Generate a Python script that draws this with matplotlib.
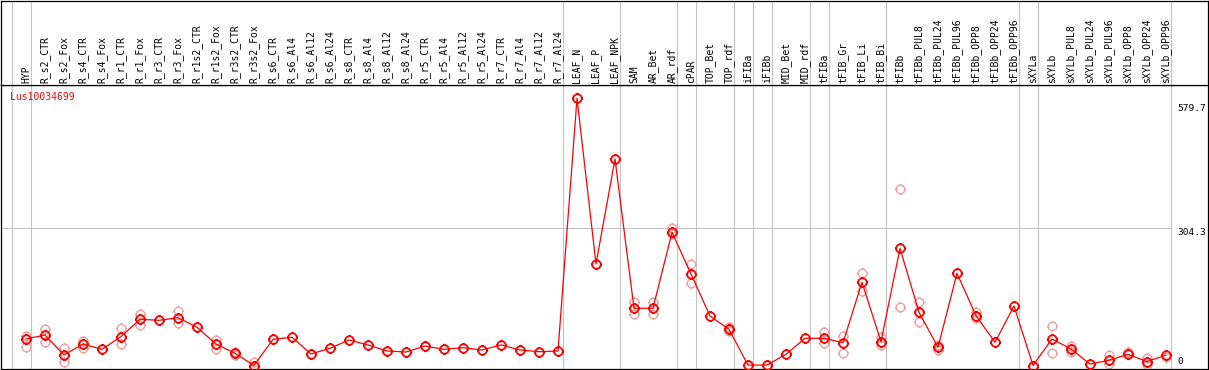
import numpy as np
import matplotlib
matplotlib.use("Agg")
import matplotlib.pyplot as plt
from matplotlib.path import Path

nan = np.nan

samples = ["HYP", "R_s2_CTR", "R_s2_Fox", "R_s4_CTR", "R_s4_Fox", "R_r1_CTR", "R_r1_Fox",
           "R_r3_CTR", "R_r3_Fox", "R_r1s2_CTR", "R_r1s2_Fox", "R_r3s2_CTR", "R_r3s2_Fox",
           "R_s6_CTR", "R_s6_Al4", "R_s6_Al12", "R_s6_Al24", "R_s8_CTR", "R_s8_Al4",
           "R_s8_Al12", "R_s8_Al24", "R_r5_CTR", "R_r5_Al4", "R_r5_Al12", "R_r5_Al24",
           "R_r7_CTR", "R_r7_Al4", "R_r7_Al12", "R_r7_Al24", "LEAF_N", "LEAF_P", "LEAF_NPK",
           "SAM", "AR_Bet", "AR_rdf", "cPAR", "TOP_Bet", "TOP_rdf", "iFIBa", "iFIBb",
           "MID_Bet", "MID_rdf", "tFIBa", "tFIB_Gr", "tFIB_Li", "tFIB_Bi", "tFIBb",
           "tFIBb_PUL8", "tFIBb_PUL24", "tFIBb_PUL96", "tFIBb_OPP8", "tFIBb_OPP24",
           "tFIBb_OPP96", "sXYLa", "sXYLb", "sXYLb_PUL8", "sXYLb_PUL24", "sXYLb_PUL96",
           "sXYLb_OPP8", "sXYLb_OPP24", "sXYLb_OPP96"]

mean_expr = [58.8, 67.6, 23.3, 47.7, 35.9, 63.9, 102.5, 100.2, 106.0, 84.7,
             47.7, 27.1, 0.0, 58.1, 62.5, 25.5, 38.1, 56.6, 45.5, 32.2,
             29.9, 43.2, 35.9, 39.5, 34.4, 45.5, 34.4, 30.6, 32.2, 592.6,
             225.1, 458.0, 126.9, 126.9, 295.4, 202.9, 109.8, 80.3, 1.0, 1.0,
             24.8, 60.3, 60.3, 50.6, 184.5, 52.8, 259.9, 118.0, 40.4, 204.5,
             110.4, 51.5, 132.0, 0.0, 58.8, 36.6, 3.3, 11.5, 24.8, 8.4,
             23.3]

# replicate values (nan = hidden behind the mean marker)
rep_1 = [65.4, 80.3, 38.1, 55.0, nan, 82.5, 114.2, nan, 120.9, nan,
         56.6, 30.6, 7.1, nan, nan, nan, nan, nan, nan, nan,
         nan, nan, nan, nan, nan, nan, nan, nan, nan, nan,
         nan, nan, 141.5, 141.5, 305.6, 225.1, nan, 86.0, nan, nan,
         nan, nan, 73.6, 66.1, 204.5, 63.9, 390.8, 140.2, 45.5, nan,
         118.0, nan, nan, nan, 87.6, 43.2, nan, 23.3, 30.6, 16.0,
         19.5]
rep_2 = [41.7, 52.8, 8.4, 38.1, nan, 47.0, 89.8, nan, 93.6, nan,
         35.9, 23.3, nan, nan, nan, nan, nan, nan, nan, nan,
         nan, nan, nan, nan, nan, nan, nan, nan, nan, nan,
         nan, nan, 114.2, 114.2, 291.6, 182.3, nan, 77.2, nan, nan,
         nan, nan, 49.2, 28.4, 165.2, 45.5, 129.1, 97.1, 34.4, nan,
         104.7, nan, nan, nan, 28.4, 29.3, nan, 2.7, nan, 1.1,
         nan]

# last sample of each group (separator lines drawn after them)
group_ends = [-1, 0, 28, 31, 34, 35, 37, 38, 39, 41, 42, 45, 52, 53, 60]
y_ticks = [0, 304.3, 579.7]
gene = "Lus10034699"

# circle with four small ticks
circ = Path.unit_circle()
stubs = Path([(1.0, 0), (1.3, 0), (-1.0, 0), (-1.3, 0), (0, 1.0), (0, 1.3), (0, -1.0), (0, -1.3)],
             [Path.MOVETO, Path.LINETO] * 4)
mark = Path.make_compound_path(circ, stubs)

mono = "DejaVu Sans Mono"
W, H = 1209, 370
fig = plt.figure(figsize=(W / 100, H / 100), dpi=100)

top_px, bot_px = 85, 369
ax = fig.add_axes([1 / W, (H - bot_px) / H, 1207 / W, (bot_px - top_px) / H])
hd = fig.add_axes([1 / W, (H - top_px) / H, 1207 / W, (top_px - 0.5) / H], sharex=ax)

x = np.arange(len(samples))
xlim = (-25 / 19, 1182 / 19)
ax.set_xlim(xlim)
ax.set_ylim(-7.76, 622.1)

for g in group_ends:
    for a in (ax, hd):
        a.axvline(g + 0.25, color="#c4c4c4", lw=0.8, zorder=0)
ax.hlines(y_ticks[1], xlim[0], group_ends[-1] + 0.25, color="#c4c4c4", lw=0.8, zorder=0)

for r in (rep_1, rep_2):
    ax.plot(x, r, ls="none", marker=mark, ms=8, mfc="none", mec="#f0a0a0", mew=1.0, zorder=2)
ax.plot(x, mean_expr, color="red", lw=0.9, marker=mark, ms=8, mfc="none", mec="red", mew=1.3,
        zorder=3)

ax.set_xticks([])
ax.set_yticks([])
hd.set_yticks([])
hd.tick_params(bottom=False, labelbottom=False)
hd.set_ylim(0, 1)
for a in (ax, hd):
    for s in a.spines.values():
        s.set_color("black")
        s.set_linewidth(0.9)

for i, name in enumerate(samples):
    hd.annotate(name, (i, 0), xytext=(0, 1.5), textcoords="offset points", rotation=90,
                ha="center", va="bottom", family=mono, fontsize=7)

# y labels on the right
lx = len(samples) - 1 + 0.62
ax.text(lx, y_ticks[2], "579.7", va="top", ha="left", family=mono, fontsize=6.8)
ax.text(lx, y_ticks[1], "304.3", va="top", ha="left", family=mono, fontsize=6.8)
ax.text(lx, y_ticks[0], "0", va="bottom", ha="left", family=mono, fontsize=6.8)

ax.annotate(gene, (0, 1), xycoords="axes fraction", xytext=(6.5, -5), textcoords="offset points",
            ha="left", va="top", color="red", family=mono, fontsize=7)

fig.savefig("out.png", dpi=100)
